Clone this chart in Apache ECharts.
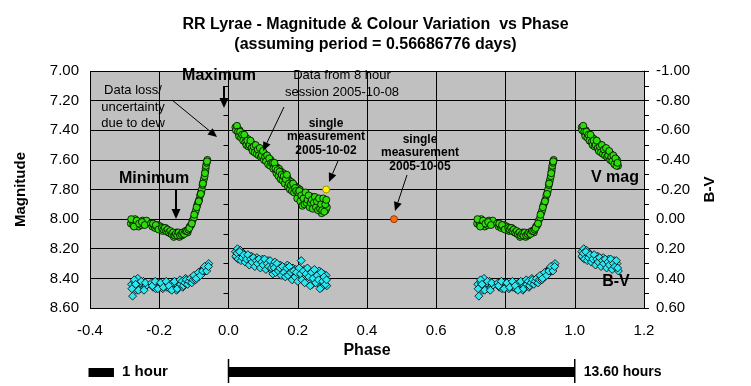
<!DOCTYPE html>
<html><head><meta charset="utf-8">
<script src="https://cdn.jsdelivr.net/npm/echarts@6/dist/echarts.min.js"></script>
<style>html,body{margin:0;padding:0;background:#fff}#c{width:751px;height:386px}</style>
</head><body><div id="c"></div>
<script>
// ---- data ----
const phaseTicks = [-0.4, -0.2, 0.0, 0.2, 0.4, 0.6, 0.8, 1.0, 1.2];
const magRange = [7.0, 8.6];
const bvRange = [-1.0, 0.6];
const periodHours = 13.6;

// V magnitude, 8 hour session 2005-10-08 [phase, mag]
const vmagSession = [
[-0.282,8.03],[-0.278,8.01],[-0.275,8.04],[-0.27,8.00],[-0.267,8.03],[-0.263,8.02],[-0.26,8.05],[-0.256,8.02],[-0.252,8.04],[-0.248,8.01],[-0.244,8.03],[-0.24,8.02],[-0.237,8.01],
[-0.281,8.00],[-0.273,8.05],[-0.265,8.01],[-0.258,8.03],[-0.25,8.02],[-0.242,8.04],
[-0.224,8.03],[-0.22,8.05],[-0.216,8.04],[-0.212,8.06],[-0.208,8.05],[-0.204,8.04],[-0.2,8.06],[-0.196,8.05],
[-0.218,8.03],[-0.21,8.04],[-0.202,8.07],[-0.19,8.08],[-0.182,8.06],[-0.174,8.09],[-0.166,8.10],[-0.158,8.12],[-0.15,8.09],[-0.142,8.12],[-0.134,8.11],[-0.126,8.09],[-0.118,8.09],
[-0.192,8.06],[-0.188,8.07],[-0.184,8.06],[-0.18,8.08],[-0.176,8.07],[-0.172,8.09],[-0.168,8.08],[-0.164,8.10],[-0.16,8.09],[-0.156,8.11],[-0.152,8.10],[-0.148,8.11],[-0.144,8.09],[-0.14,8.11],[-0.136,8.10],[-0.132,8.09],[-0.128,8.10],[-0.124,8.08],[-0.12,8.08],
[-0.116,8.07],[-0.112,8.05],[-0.108,8.04],[-0.104,8.01],[-0.1,7.99],[-0.097,7.96],[-0.094,7.94],[-0.091,7.91],[-0.088,7.89],[-0.085,7.87],[-0.082,7.84],[-0.079,7.82],[-0.077,7.80],[-0.075,7.77],[-0.073,7.75],[-0.071,7.73],[-0.069,7.71],[-0.067,7.68],[-0.066,7.66],[-0.065,7.64],[-0.063,7.62],[-0.061,7.60],
[-0.113,8.06],[-0.106,8.03],[-0.099,7.97],[-0.092,7.92],[-0.086,7.88],[-0.08,7.83],[-0.074,7.76],[-0.068,7.69],[-0.062,7.61],
[0.020,7.38],[0.023,7.40],[0.026,7.39],[0.029,7.42],[0.032,7.40],[0.035,7.43],[0.038,7.42],[0.041,7.45],[0.044,7.44],[0.047,7.46],[0.050,7.45],[0.053,7.48],[0.056,7.46],[0.059,7.49],[0.062,7.48],[0.065,7.50],[0.068,7.49],[0.071,7.52],[0.074,7.50],[0.077,7.53],[0.080,7.52],[0.083,7.54],[0.086,7.52],[0.089,7.55],[0.092,7.54],[0.095,7.56],[0.098,7.55],[0.101,7.58],[0.104,7.56],[0.107,7.59],[0.110,7.58],[0.113,7.61],[0.116,7.60],[0.119,7.62],[0.122,7.60],[0.125,7.64],
[0.0215,7.40],[0.0245,7.37],[0.0275,7.41],[0.0305,7.44],[0.0335,7.41],[0.0365,7.45],[0.0395,7.43],[0.0425,7.47],[0.0455,7.43],[0.0485,7.48],[0.0515,7.50],[0.0545,7.47],[0.0575,7.51],[0.0605,7.50],[0.0635,7.47],[0.0665,7.52],[0.0695,7.54],[0.0725,7.51],[0.0755,7.55],[0.0785,7.50],[0.0815,7.56],[0.0845,7.53],[0.0875,7.57],[0.0905,7.52],[0.0935,7.58],[0.0965,7.57],[0.0995,7.54],[0.1025,7.60],[0.1055,7.58],[0.1085,7.61],[0.1115,7.57],[0.1145,7.63],[0.1175,7.59],[0.1205,7.64],[0.1235,7.62],
[0.128,7.62],[0.131,7.65],[0.134,7.64],[0.137,7.67],[0.140,7.65],[0.143,7.68],[0.146,7.66],[0.149,7.70],[0.152,7.68],[0.155,7.71],[0.158,7.69],[0.161,7.73],[0.164,7.71],[0.167,7.74],[0.170,7.72],[0.173,7.75],[0.176,7.74],[0.179,7.77],[0.182,7.75],[0.185,7.78],[0.188,7.77],[0.191,7.80],[0.194,7.78],[0.197,7.82],[0.200,7.79],[0.203,7.84],[0.206,7.80],[0.209,7.86],[0.212,7.82],[0.215,7.89],[0.218,7.83],[0.221,7.86],[0.224,7.84],[0.227,7.88],[0.230,7.85],[0.233,7.90],[0.236,7.86],[0.239,7.88],[0.242,7.85],[0.245,7.91],[0.248,7.87],[0.251,7.89],[0.254,7.86],[0.257,7.92],[0.260,7.88],[0.263,7.90],[0.266,7.87],[0.269,7.96],[0.272,7.89],[0.275,7.91],[0.278,7.88],[0.281,7.94],[0.284,7.92],
[0.1295,7.66],[0.1325,7.62],[0.1355,7.66],[0.1385,7.69],[0.1415,7.67],[0.1445,7.71],[0.1475,7.68],[0.1505,7.73],[0.1535,7.70],[0.1565,7.74],[0.1595,7.71],[0.1625,7.76],[0.1655,7.73],[0.1685,7.70],[0.1715,7.78],[0.1745,7.76],[0.1775,7.80],[0.1805,7.77],[0.1835,7.81],[0.1865,7.76],[0.1895,7.82],[0.1925,7.79],[0.1955,7.81],[0.1985,7.86],[0.2015,7.82],[0.2045,7.81],[0.2075,7.88],[0.2105,7.84],[0.2135,7.91],[0.2165,7.86],[0.2195,7.90],[0.2225,7.82],[0.2255,7.89],[0.2285,7.87],[0.2315,7.84],[0.2345,7.92],[0.2375,7.89],[0.2405,7.87],[0.2435,7.93],[0.2465,7.89],[0.2495,7.85],[0.2525,7.92],[0.2555,7.88],[0.2585,7.94],[0.2615,7.86],[0.2645,7.93],[0.2675,7.90],[0.2705,7.94],[0.2735,7.86],[0.2765,7.95],[0.2795,7.90],[0.2825,7.87]
];

// B-V colour, same session [phase, B-V]
const bvSession = [
[-0.28,0.44],[-0.277,0.52],[-0.274,0.46],[-0.27,0.43],[-0.266,0.48],[-0.262,0.40],[-0.258,0.45],[-0.254,0.47],[-0.25,0.44],[-0.246,0.42],[-0.242,0.46],[-0.238,0.45],
[-0.279,0.47],[-0.272,0.41],[-0.268,0.44],[-0.26,0.48],[-0.252,0.42],[-0.244,0.48],[-0.24,0.43],
[-0.222,0.43],[-0.218,0.46],[-0.214,0.44],[-0.21,0.47],[-0.206,0.45],[-0.202,0.43],[-0.198,0.46],[-0.194,0.44],[-0.19,0.47],[-0.186,0.45],[-0.182,0.43],[-0.178,0.46],[-0.174,0.44],[-0.17,0.47],[-0.166,0.45],[-0.162,0.43],[-0.158,0.46],[-0.154,0.44],[-0.15,0.48],[-0.146,0.45],[-0.142,0.43],
[-0.22,0.45],[-0.212,0.42],[-0.204,0.47],[-0.196,0.43],[-0.188,0.46],[-0.18,0.42],[-0.172,0.45],[-0.164,0.48],[-0.156,0.42],[-0.148,0.47],[-0.14,0.41],[-0.132,0.46],[-0.124,0.40],[-0.116,0.43],[-0.108,0.41],
[-0.138,0.44],[-0.134,0.42],[-0.13,0.45],[-0.126,0.43],[-0.122,0.41],[-0.118,0.44],[-0.114,0.42],[-0.11,0.40],[-0.106,0.43],[-0.102,0.41],
[-0.098,0.39],[-0.095,0.41],[-0.092,0.38],[-0.089,0.37],[-0.086,0.39],[-0.083,0.36],[-0.08,0.35],[-0.077,0.37],[-0.074,0.34],[-0.071,0.33],[-0.068,0.35],[-0.065,0.32],[-0.062,0.33],[-0.059,0.31],[-0.057,0.30],
[-0.1,0.38],[-0.093,0.40],[-0.087,0.36],[-0.081,0.38],[-0.075,0.35],[-0.069,0.32],[-0.063,0.35],[-0.058,0.32],
[0.02,0.22],[0.023,0.26],[0.026,0.20],[0.03,0.24],[0.034,0.21],[0.038,0.25],[0.042,0.23],[0.046,0.27],[0.05,0.25],[0.054,0.29],[0.058,0.26],[0.062,0.28],[0.066,0.25],[0.07,0.30],[0.074,0.27],[0.078,0.29],[0.082,0.26],[0.086,0.31],[0.09,0.28],[0.094,0.30],[0.098,0.27],[0.102,0.32],[0.106,0.29],[0.11,0.31],[0.114,0.28],[0.118,0.33],[0.122,0.30],[0.126,0.35],
[0.021,0.25],[0.025,0.23],[0.028,0.27],[0.032,0.22],[0.036,0.28],[0.04,0.26],[0.044,0.24],[0.048,0.29],[0.052,0.27],[0.056,0.24],[0.06,0.31],[0.064,0.27],[0.068,0.29],[0.072,0.26],[0.076,0.32],[0.08,0.28],[0.084,0.30],[0.088,0.27],[0.092,0.33],[0.096,0.29],[0.1,0.31],[0.104,0.27],[0.108,0.34],[0.112,0.30],[0.116,0.32],[0.12,0.28],[0.124,0.33],
[0.13,0.31],[0.134,0.29],[0.138,0.34],[0.142,0.32],[0.146,0.36],[0.15,0.31],[0.154,0.34],[0.158,0.38],[0.162,0.33],[0.166,0.35],[0.17,0.31],[0.174,0.36],[0.178,0.34],[0.182,0.39],[0.186,0.33],[0.19,0.36],[0.194,0.34],[0.198,0.38],[0.202,0.35],[0.206,0.40],[0.21,0.28],[0.214,0.37],[0.218,0.34],[0.222,0.39],[0.226,0.36],[0.23,0.42],[0.234,0.35],[0.238,0.38],[0.242,0.44],[0.246,0.36],[0.25,0.40],[0.254,0.37],[0.258,0.43],[0.262,0.35],[0.266,0.39],[0.27,0.46],[0.274,0.37],[0.278,0.41],[0.282,0.38],[0.284,0.45],
[0.128,0.37],[0.132,0.33],[0.136,0.36],[0.14,0.30],[0.144,0.35],[0.148,0.33],[0.152,0.38],[0.156,0.32],[0.16,0.36],[0.164,0.39],[0.168,0.33],[0.172,0.38],[0.176,0.32],[0.18,0.36],[0.184,0.41],[0.188,0.35],[0.192,0.39],[0.196,0.36],[0.2,0.42],[0.204,0.33],[0.208,0.37],[0.212,0.41],[0.216,0.35],[0.22,0.43],[0.224,0.37],[0.228,0.33],[0.232,0.39],[0.236,0.45],[0.24,0.36],[0.244,0.40],[0.248,0.34],[0.252,0.43],[0.256,0.38],[0.26,0.41],[0.264,0.47],[0.268,0.36],[0.272,0.42],[0.276,0.39],[0.28,0.44],[0.283,0.41]
];

const single20051002 = [0.282, 7.80];
const single20051005 = [0.478, 8.00];

// phase-folded repeats of the session (shown again one cycle later)
const repeatUpTo = 0.126;
function withRepeat(arr) {
  const out = arr.slice();
  arr.forEach(([p, v]) => {
    if (p < 0 || p <= repeatUpTo) out.push([+(p + 1).toFixed(4), v]);
  });
  return out;
}

const FONT = '"Liberation Sans", Arial, sans-serif';
const chart = echarts.init(document.getElementById('c'), null, {renderer: 'canvas'});

const grid = {left: 90, right: 107, top: 71, height: 237, show: true, backgroundColor: '#C0C0C0', borderWidth: 0};

chart.setOption({
  animation: false,
  backgroundColor: '#ffffff',
  title: {
    text: 'RR Lyrae - Magnitude & Colour Variation  vs Phase\n(assuming period = 0.56686776 days)',
    left: 'center', top: 10,
    textStyle: {fontFamily: FONT, fontSize: 16, fontWeight: 'bold', color: '#000', lineHeight: 20}
  },
  grid: grid,
  xAxis: {
    type: 'value', min: phaseTicks[0], max: phaseTicks[phaseTicks.length - 1], interval: 0.2,
    name: 'Phase', nameLocation: 'middle', nameGap: 34,
    nameTextStyle: {fontFamily: FONT, fontSize: 16, fontWeight: 'bold', color: '#000'},
    axisLine: {show: true, lineStyle: {color: '#000', width: 1}},
    axisTick: {show: true, length: 5, lineStyle: {color: '#000'}},
    axisLabel: {margin: 15, fontFamily: FONT, fontSize: 15, color: '#000', formatter: v => v.toFixed(1)},
    splitLine: {show: true, lineStyle: {color: '#000', width: 1}}
  },
  yAxis: [{
    type: 'value', min: magRange[0], max: magRange[1], interval: 0.2, inverse: true,
    name: 'Magnitude', nameLocation: 'middle', nameGap: 62, nameRotate: 90,
    nameTextStyle: {fontFamily: FONT, fontSize: 15, fontWeight: 'bold', color: '#000'},
    axisLine: {show: true, lineStyle: {color: '#000', width: 1}},
    axisTick: {show: true, length: 5, lineStyle: {color: '#000'}},
    minorTick: {show: true, splitNumber: 2, length: 5, lineStyle: {color: '#000'}},
    axisLabel: {margin: 11, fontFamily: FONT, fontSize: 15, color: '#000', formatter: v => v.toFixed(2)},
    splitLine: {show: true, lineStyle: {color: '#000', width: 1}}
  }, {
    type: 'value', min: bvRange[0], max: bvRange[1], interval: 0.2, inverse: true, position: 'right',
    name: 'B-V', nameLocation: 'middle', nameGap: 58, nameRotate: 90,
    nameTextStyle: {fontFamily: FONT, fontSize: 15, fontWeight: 'bold', color: '#000'},
    axisLine: {show: true, lineStyle: {color: '#000', width: 1}},
    axisTick: {show: true, length: 5, lineStyle: {color: '#000'}},
    minorTick: {show: true, splitNumber: 2, length: 5, lineStyle: {color: '#000'}},
    axisLabel: {margin: 12, fontFamily: FONT, fontSize: 15, color: '#000', formatter: v => v.toFixed(2)},
    splitLine: {show: false}
  }],
  series: [{
    name: 'B-V', type: 'scatter', yAxisIndex: 1, symbol: 'diamond', symbolSize: 8,
    itemStyle: {color: '#2CE6F0', borderColor: '#000', borderWidth: 0.8, opacity: 1},
    data: withRepeat(bvSession), z: 2
  }, {
    name: 'V mag', type: 'scatter', yAxisIndex: 0, symbol: 'circle', symbolSize: 7,
    itemStyle: {color: '#2EDC0A', borderColor: '#000', borderWidth: 0.8, opacity: 1},
    data: withRepeat(vmagSession), z: 3
  }, {
    name: 'single 2005-10-02', type: 'scatter', yAxisIndex: 0, symbol: 'circle', symbolSize: 7,
    itemStyle: {color: '#FFF200', borderColor: '#8a7a00', borderWidth: 0.8, opacity: 1},
    data: [single20051002], z: 4
  }, {
    name: 'single 2005-10-05', type: 'scatter', yAxisIndex: 0, symbol: 'circle', symbolSize: 7,
    itemStyle: {color: '#FF6A10', borderColor: '#7a2a00', borderWidth: 0.8, opacity: 1},
    data: [single20051005], z: 4
  }]
});

// ---- annotations ----
function arrow(x1, y1, x2, y2, w, head) {
  const ang = Math.atan2(y2 - y1, x2 - x1);
  const hl = head || 9, hw = (head || 9) * 0.45;
  const bx = x2 - hl * Math.cos(ang), by = y2 - hl * Math.sin(ang);
  const px = -Math.sin(ang) * hw, py = Math.cos(ang) * hw;
  return [
    {type: 'line', shape: {x1: x1, y1: y1, x2: bx, y2: by}, style: {stroke: '#000', lineWidth: w}, z: 100},
    {type: 'polygon', shape: {points: [[x2, y2], [bx + px, by + py], [bx - px, by - py]]}, style: {fill: '#000'}, z: 100}
  ];
}
function txt(x, y, s, size, bold, lh) {
  return {type: 'text', x: x, y: y, z: 100, style: {text: s, fill: '#000', fontFamily: FONT, fontSize: size,
    fontWeight: bold ? 'bold' : 'normal', align: 'center', verticalAlign: 'middle', lineHeight: lh || size + 2}};
}
const X = v => chart.convertToPixel({xAxisIndex: 0}, v);
const g = [];
g.push(txt(219, 76, 'Maximum', 16, true));
g.push(...arrow(224, 86, 224, 108, 2, 10));
g.push(txt(133, 107, 'Data loss/\nuncertainty\ndue to dew', 13, false, 16.5));
g.push(...arrow(172, 100, 217, 137, 1, 9));
g.push(txt(342, 84, 'Data from 8 hour\nsession 2005-10-08', 13, false, 17));
g.push(...arrow(284, 107, 263, 151, 1, 9));
g.push(txt(326, 137, 'single\nmeasurement\n2005-10-02', 12, true, 13.5));
g.push(...arrow(338, 161, 329, 182, 1, 9));
g.push(txt(420, 153, 'single\nmeasurement\n2005-10-05', 12, true, 13.5));
g.push(...arrow(407, 175, 395, 211, 1, 9));
g.push(txt(154, 179, 'Minimum', 16, true));
g.push(...arrow(176, 189, 176, 219, 2, 10));
g.push(txt(615, 178, 'V mag', 16, true));
g.push(txt(616, 282, 'B-V', 16, true));

// bottom scale bars: 1 hour and one full period
const x0 = X(phaseTicks[0]), x1h = X(phaseTicks[0] + 1 / periodHours);
g.push({type: 'rect', shape: {x: x0 - 1.5, y: 368, width: x1h - x0, height: 9}, style: {fill: '#000'}});
g.push(txt(145, 372, '1 hour', 15, true));
const p0 = X(0), p1 = X(1);
g.push({type: 'rect', shape: {x: p0, y: 367, width: p1 - p0, height: 10}, style: {fill: '#000'}});
g.push({type: 'line', shape: {x1: p0, y1: 359, x2: p0, y2: 383}, style: {stroke: '#000', lineWidth: 1.5}});
g.push({type: 'line', shape: {x1: p1, y1: 359, x2: p1, y2: 383}, style: {stroke: '#000', lineWidth: 1.5}});
g.push({type: 'text', x: p1 + 9, y: 372, style: {text: '13.60 hours', fill: '#000', fontFamily: FONT, fontSize: 14, fontWeight: 'bold', align: 'left', verticalAlign: 'middle'}});
chart.setOption({graphic: g});
</script>
</body></html>
